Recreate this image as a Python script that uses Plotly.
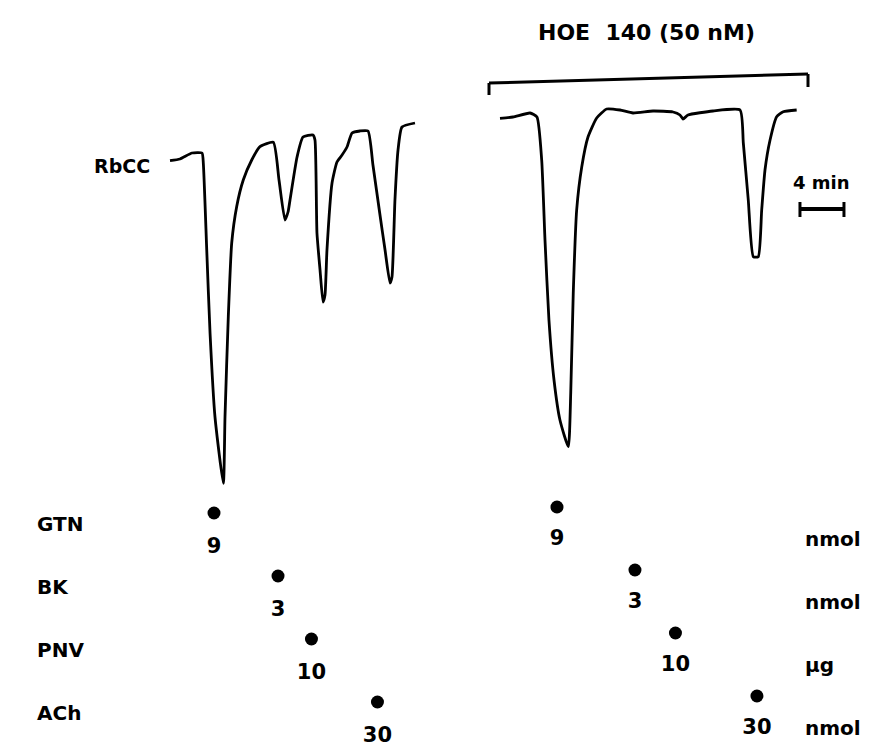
import plotly.graph_objects as go

# ---------------- data ----------------
# Control recording (time in min, tension in arbitrary units, 0 = baseline)
ctrl_t = [0.00, 0.91, 2.00, 2.91, 3.03, 3.34, 3.64, 4.09, 4.85, 5.00, 5.30, 5.61, 6.06, 6.66,
          7.43, 8.18, 9.39, 9.91, 10.45, 10.73, 10.91, 11.55, 12.09, 13.00, 13.18, 13.36, 13.64,
          13.91, 14.09, 14.27, 14.73, 15.18, 15.64, 16.09, 16.55, 17.27, 18.00, 18.45, 19.09,
          19.55, 20.00, 20.18, 20.45, 20.73, 21.09, 22.27]
ctrl_y = [-0.07, 0.10, 0.70, 0.70, -0.33, -9.00, -17.30, -25.70, -32.33, -25.67, -15.67, -8.30,
          -4.67, -2.00, 0.00, 1.33, 1.77, -2.00, -6.00, -5.20, -4.00, 0.30, 2.30, 2.50, 2.00,
          -7.30, -11.00, -14.20, -13.50, -9.00, -2.30, -0.20, 0.50, 1.30, 2.70, 2.90, 2.90,
          -0.50, -5.50, -9.00, -12.30, -11.70, -4.00, 1.00, 3.30, 3.70]

# Recording in presence of HOE 140
hoe_t = [30.00, 31.18, 32.73, 33.36, 33.79, 34.09, 34.45, 34.91, 35.45, 36.21, 36.43, 36.66,
         36.97, 37.43, 38.00, 38.79, 39.70, 40.91, 42.09, 43.91, 45.73, 46.36, 46.64, 47.09,
         49.36, 51.82, 52.12, 52.57, 53.03, 53.48, 53.79, 54.09, 54.55, 55.15, 55.75, 56.97]
hoe_y = [4.17, 4.30, 4.70, 4.30, 0.00, -8.00, -16.00, -22.00, -26.00, -28.67, -23.30, -13.30,
         -5.00, -0.70, 2.30, 4.20, 5.10, 5.00, 4.70, 4.90, 4.80, 4.50, 4.10, 4.50, 4.90, 5.00,
         1.70, -4.00, -9.67, -9.67, -5.00, -1.00, 2.00, 4.33, 4.83, 5.00]

drugs = ["GTN", "BK", "PNV", "ACh"]
doses = ["9", "3", "10", "30"]
units = ["nmol", "nmol", "\u00b5g", "nmol"]
ctrl_inj_t = [4.00, 9.82, 12.86, 18.86]     # injection times, control (min)
hoe_inj_t = [35.18, 42.27, 45.95, 53.36]    # injection times, with HOE 140 (min)

hoe_period = [29.0, 58.0]                   # HOE 140 application (min)
scale_bar_min = 4
scale_bar_start = 57.27

# ---------------- layout helpers ----------------
W, H = 874, 747
FONT = dict(family="DejaVu Sans", color="black", weight="bold")


def py(p):
    """pixel row -> paper y"""
    return 1 - p / H


def px(p):
    return p / W


ROW0, ROWSTEP = 513, 63          # row geometry (pixels) for the marker axis
HOE_SHIFT = -0.095               # second session is drawn slightly higher
rows = list(range(len(drugs)))

fig = go.Figure()

line_style = dict(color="black", width=2.8, shape="spline", smoothing=0.5)
fig.add_trace(go.Scatter(x=ctrl_t, y=ctrl_y, mode="lines", line=line_style, hoverinfo="skip"))
fig.add_trace(go.Scatter(x=hoe_t, y=hoe_y, mode="lines", line=line_style, hoverinfo="skip"))

# injection markers
fig.add_trace(go.Scatter(x=ctrl_inj_t, y=rows, yaxis="y2", mode="markers",
                         marker=dict(color="black", size=13), hoverinfo="skip"))
fig.add_trace(go.Scatter(x=hoe_inj_t, y=[r + HOE_SHIFT for r in rows], yaxis="y2",
                         mode="markers", marker=dict(color="black", size=13), hoverinfo="skip"))
# dose labels
fig.add_trace(go.Scatter(x=ctrl_inj_t, y=[r + 0.55 for r in rows], yaxis="y2", mode="text",
                         text=doses, textfont=dict(size=21, **FONT), hoverinfo="skip"))
fig.add_trace(go.Scatter(x=hoe_inj_t, y=[r + HOE_SHIFT + 0.52 for r in rows], yaxis="y2",
                         mode="text", text=doses, textfont=dict(size=21, **FONT),
                         hoverinfo="skip"))

annotations = []
for r, name in zip(rows, drugs):
    annotations.append(dict(x=px(35), y=r + 0.17, xref="paper", yref="y2", text=name,
                            showarrow=False, xanchor="left", yanchor="middle",
                            font=dict(size=20, **FONT)))
for r, u in zip(rows, units):
    annotations.append(dict(x=px(803), y=r + HOE_SHIFT + 0.5, xref="paper", yref="y2", text=u,
                            showarrow=False, xanchor="left", yanchor="middle",
                            font=dict(size=20, **FONT)))
annotations.append(dict(x=px(152), y=py(166), xref="paper", yref="paper", text="RbCC",
                        showarrow=False, xanchor="right", yanchor="middle",
                        font=dict(size=19, **FONT)))
annotations.append(dict(x=px(646), y=py(33), xref="paper", yref="paper",
                        text="HOE\u00a0 140 (50 nM)", showarrow=False, xanchor="center",
                        yanchor="middle", font=dict(size=22, **FONT)))
annotations.append(dict(x=scale_bar_start + scale_bar_min / 2, y=py(182), xref="x",
                        yref="paper", text="4 min", showarrow=False, xanchor="center",
                        yanchor="middle", font=dict(size=18, **FONT)))

shapes = []
blk = dict(color="black", width=3)
# HOE bracket
shapes.append(dict(type="line", xref="x", yref="paper", x0=hoe_period[0], x1=hoe_period[1],
                   y0=py(83), y1=py(74), line=blk))
shapes.append(dict(type="line", xref="x", yref="paper", x0=hoe_period[0], x1=hoe_period[0],
                   y0=py(83), y1=py(95), line=blk))
shapes.append(dict(type="line", xref="x", yref="paper", x0=hoe_period[1], x1=hoe_period[1],
                   y0=py(74), y1=py(87), line=blk))
# time scale bar
sb0, sb1 = scale_bar_start, scale_bar_start + scale_bar_min
shapes.append(dict(type="line", xref="x", yref="paper", x0=sb0, x1=sb1, y0=py(209), y1=py(209),
                   line=dict(color="black", width=4)))
for xx in (sb0, sb1):
    shapes.append(dict(type="line", xref="x", yref="paper", x0=xx, x1=xx, y0=py(202),
                       y1=py(217), line=dict(color="black", width=3)))

fig.update_layout(
    width=W, height=H, margin=dict(l=0, r=0, t=0, b=0),
    paper_bgcolor="white", plot_bgcolor="white", showlegend=False,
    xaxis=dict(range=[-170 / 11, 704 / 11], visible=False, fixedrange=True),
    yaxis=dict(range=[-58.7, 16.0], visible=False, fixedrange=True),
    yaxis2=dict(range=[(H - ROW0) / ROWSTEP, -ROW0 / ROWSTEP], overlaying="y",
                visible=False, fixedrange=True),
    annotations=annotations, shapes=shapes,
)

fig.write_html("out.html", config={"displayModeBar": False})
